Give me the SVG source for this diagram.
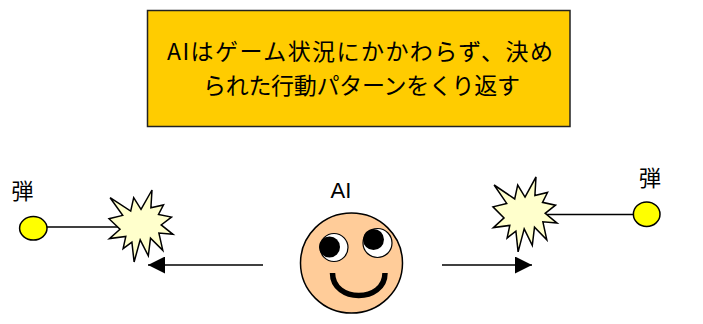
<svg xmlns="http://www.w3.org/2000/svg" width="703" height="324" viewBox="0 0 703 324">
  <style>
    .label { font-family: "Liberation Sans", "Noto Sans CJK JP", sans-serif; fill: #000; }
    .jp { font-family: "Noto Sans CJK JP", "Liberation Sans", sans-serif; fill: #000; }
    .wire { stroke: #000; stroke-width: 1.5; fill: none; }
    .ball { fill: #FFFF00; stroke: #000; stroke-width: 1.5; }
    .burst { fill: #FFFFCC; stroke: #000; stroke-width: 1.5; stroke-linejoin: miter; }
  </style>
  <defs>
    <marker id="head" viewBox="0 0 17 17" refX="17" refY="8.5" markerWidth="17" markerHeight="17" markerUnits="userSpaceOnUse" orient="auto">
      <path d="M0,0 L17,8.5 L0,17 Z" fill="#000"/>
    </marker>
    <polygon id="explosion" points="32,19.3 43,0 41.9,17.8 54.5,14.9 49.5,24.4 62.5,27.1 52.2,34.9 64,44.3 49.9,43.1 53.8,60.3 41.5,48.2 39.3,65.8 31.2,49.8 25.1,72 22.9,52.1 14.1,58.7 16.8,46.5 0.4,48.6 11,39.3 0,28.7 13.7,25.4 1.1,7.7 21.7,21.1 24.7,7.7"/>
  </defs>

  <!-- title box -->
  <g id="title">
    <rect x="147.5" y="10.5" width="422.5" height="116" fill="#FFCC00" stroke="#222" stroke-width="1.5"/>
    <text class="jp" x="360" y="60" font-size="23" text-anchor="middle" textLength="386" lengthAdjust="spacing">AIはゲーム状況にかかわらず、決め</text>
    <text class="jp" x="361.5" y="94" font-size="23" text-anchor="middle" textLength="317" lengthAdjust="spacing">られた行動パターンをくり返す</text>
  </g>

  <!-- connectors: bullet trails and movement arrows -->
  <g id="connectors">
    <line class="wire" x1="33" y1="227" x2="125" y2="227"/>
    <line class="wire" x1="540" y1="214.5" x2="647" y2="214.5"/>
    <line class="wire" x1="263" y1="265" x2="148" y2="265" marker-end="url(#head)"/>
    <line class="wire" x1="442" y1="265" x2="532" y2="265" marker-end="url(#head)"/>
  </g>

  <!-- left bullet -->
  <g id="bullet-left">
    <text class="jp" x="22.5" y="199" font-size="22" text-anchor="middle">弾</text>
    <ellipse class="ball" cx="33.3" cy="228.3" rx="13.7" ry="11.7"/>
  </g>

  <!-- right bullet -->
  <g id="bullet-right">
    <text class="jp" x="650" y="186" font-size="22" text-anchor="middle">弾</text>
    <ellipse class="ball" cx="646.7" cy="214.2" rx="13.3" ry="12.3"/>
  </g>

  <!-- impact bursts -->
  <g id="burst-left">
    <use href="#explosion" class="burst" transform="translate(109,190)"/>
  </g>
  <g id="burst-right">
    <use href="#explosion" class="burst" transform="translate(493,177) scale(1,1.04)"/>
  </g>

  <!-- AI face -->
  <g id="ai">
    <text class="label" x="341" y="198" font-size="22" text-anchor="middle">AI</text>
    <ellipse cx="351.5" cy="263" rx="51" ry="50" fill="#FFCC99" stroke="#000" stroke-width="1.5"/>
    <circle cx="334" cy="247.5" r="14" fill="#fff" stroke="#000" stroke-width="1.2"/>
    <circle cx="329.5" cy="247" r="10.5" fill="#000"/>
    <circle cx="377.5" cy="243" r="14.5" fill="#fff" stroke="#000" stroke-width="1.2"/>
    <circle cx="373.5" cy="239.5" r="10.5" fill="#000"/>
    <path d="M332.5,273 C332.5,303 385,303 385,273" fill="none" stroke="#000" stroke-width="5.5"/>
  </g>
</svg>
